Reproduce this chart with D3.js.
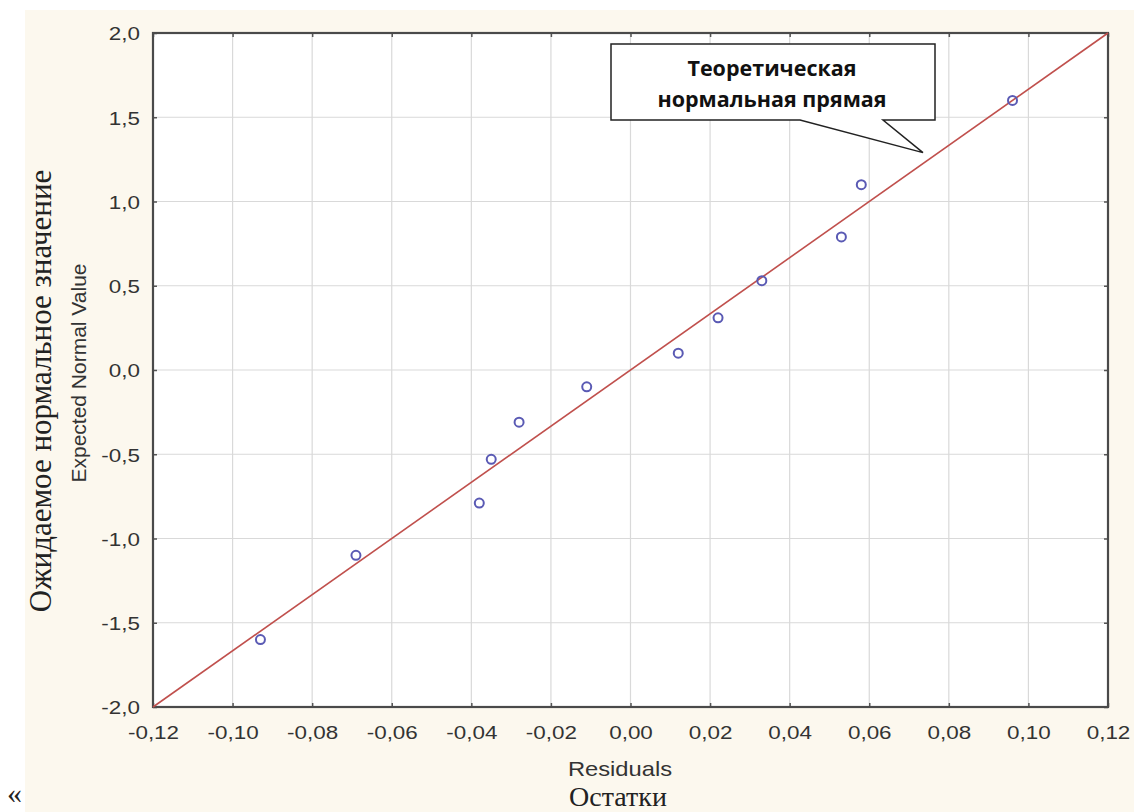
<!DOCTYPE html>
<html>
<head>
<meta charset="utf-8">
<script src="https://cdn.jsdelivr.net/npm/d3@7"></script>
<style>
  body { margin: 0; background: #ffffff; }
  svg { display: block; }
</style>
</head>
<body>
<svg></svg>
<script>
const svgWidth = 1134
const svgHeight = 812
const margins = { top: 33, bottom: 105, left: 153, right: 26 }
const plotWidth = svgWidth - margins.left - margins.right
const plotHeight = svgHeight - margins.top - margins.bottom

// residuals vs expected normal values
const residuals = [-0.093, -0.069, -0.038, -0.035, -0.028, -0.011, 0.012, 0.022, 0.033, 0.053, 0.058, 0.096]
const expected = [-1.60, -1.10, -0.79, -0.53, -0.31, -0.10, 0.10, 0.31, 0.53, 0.79, 1.10, 1.60]
const xTicks = [-0.12, -0.10, -0.08, -0.06, -0.04, -0.02, 0.00, 0.02, 0.04, 0.06, 0.08, 0.10, 0.12]
const yTicks = [-2.0, -1.5, -1.0, -0.5, 0.0, 0.5, 1.0, 1.5, 2.0]
const lineEnds = [[-0.12, -2.0], [0.12, 2.0]]
const calloutLines = ["Теоретическая", "нормальная прямая"]

const ru = d3.formatLocale({ decimal: ",", thousands: " ", grouping: [3], currency: ["", ""], minus: "-" })

// the picture is a bit wider than tall, so stretch text horizontally
function stretch(sel, k) {
    sel.each(function () {
        const w = this.getComputedTextLength()
        d3.select(this).attr("textLength", w * k).attr("lengthAdjust", "spacingAndGlyphs")
    })
}

const svg = d3.select("svg")
    .attr("width", svgWidth)
    .attr("height", svgHeight)

// cream panel
svg.append("rect")
    .attr("x", 25).attr("y", 10)
    .attr("width", svgWidth - 25).attr("height", svgHeight - 10)
    .attr("fill", "#fcf8ee")

const xScale = d3.scaleLinear().domain([-0.12, 0.12]).range([0, plotWidth])
const yScale = d3.scaleLinear().domain([-2, 2]).range([plotHeight, 0])

const g = svg.append("g").attr("transform", `translate(${margins.left},${margins.top})`)

g.append("rect")
    .attr("width", plotWidth).attr("height", plotHeight)
    .attr("fill", "#ffffff")

// grid
g.append("g").selectAll("line")
    .data(xTicks.slice(1, -1))
    .join("line")
    .attr("x1", d => xScale(d)).attr("x2", d => xScale(d))
    .attr("y1", 0).attr("y2", plotHeight)
    .attr("stroke", "#d9d9d9").attr("stroke-width", 1.2)
g.append("g").selectAll("line")
    .data(yTicks.slice(1, -1))
    .join("line")
    .attr("y1", d => yScale(d)).attr("y2", d => yScale(d))
    .attr("x1", 0).attr("x2", plotWidth)
    .attr("stroke", "#d9d9d9").attr("stroke-width", 1.2)

// axes with inner ticks
const xAxis = g.append("g")
    .attr("transform", `translate(0,${plotHeight})`)
    .call(d3.axisBottom(xScale).tickValues(xTicks).tickSizeInner(-4).tickSizeOuter(0).tickPadding(19).tickFormat(ru.format(".2f")))
const xAxisTop = g.append("g")
    .call(d3.axisTop(xScale).tickValues(xTicks).tickSizeInner(-4).tickSizeOuter(0).tickFormat(""))
const yAxis = g.append("g")
    .call(d3.axisLeft(yScale).tickValues(yTicks).tickSizeInner(-4).tickSizeOuter(0).tickPadding(13).tickFormat(ru.format(".1f")))
const yAxisRight = g.append("g")
    .attr("transform", `translate(${plotWidth},0)`)
    .call(d3.axisRight(yScale).tickValues(yTicks).tickSizeInner(-4).tickSizeOuter(0).tickFormat(""))

;[xAxis, xAxisTop, yAxis, yAxisRight].forEach(a => {
    a.select(".domain").remove()
    a.selectAll(".tick line").attr("stroke", "#555").attr("stroke-width", 1.5)
    a.selectAll("text")
        .attr("font-family", "Liberation Sans, Arial, sans-serif")
        .attr("font-size", 19)
        .attr("fill", "#333")
})
yAxis.selectAll("text").attr("dy", "0.36em")
stretch(xAxis.selectAll("text"), 1.18)
stretch(yAxis.selectAll("text"), 1.18)

// frame
g.append("rect")
    .attr("width", plotWidth).attr("height", plotHeight)
    .attr("fill", "none")
    .attr("stroke", "#4a4a4a").attr("stroke-width", 2.2)

// theoretical normal line
g.append("line")
    .attr("x1", xScale(lineEnds[0][0])).attr("y1", yScale(lineEnds[0][1]))
    .attr("x2", xScale(lineEnds[1][0])).attr("y2", yScale(lineEnds[1][1]))
    .attr("stroke", "#c0504d").attr("stroke-width", 1.6)

// points
g.selectAll(".pt")
    .data(residuals.map((r, i) => ({ r: r, e: expected[i] })))
    .join("circle")
    .attr("class", "pt")
    .attr("cx", d => xScale(d.r))
    .attr("cy", d => yScale(d.e))
    .attr("r", 4.5)
    .attr("fill", "none")
    .attr("stroke", "#5a5ab4")
    .attr("stroke-width", 2)

// callout
const box = { x: 611, y: 44, w: 324, h: 76 }
const tipX = xScale(0.0735) + margins.left
const tipY = yScale(1.29) + margins.top
svg.append("path")
    .attr("d", `M${box.x},${box.y} H${box.x + box.w} V${box.y + box.h} H${883} L${tipX},${tipY} L${800},${box.y + box.h} H${box.x} Z`)
    .attr("fill", "#ffffff")
    .attr("stroke", "#222")
    .attr("stroke-width", 1.5)
svg.append("g").selectAll("text")
    .data(calloutLines)
    .join("text")
    .attr("x", box.x + box.w / 2 - 1)
    .attr("y", (d, i) => 76 + i * 31)
    .attr("text-anchor", "middle")
    .attr("font-family", "Open Sans, sans-serif")
    .attr("font-weight", "bold")
    .attr("font-size", 21.5)
    .attr("fill", "#111")
    .text(d => d)

// axis titles
const resTitle = svg.append("text")
    .text("Residuals")
    .attr("x", 620)
    .attr("y", 776)
    .attr("text-anchor", "middle")
    .attr("font-family", "Liberation Sans, Arial, sans-serif")
    .attr("font-size", 21)
    .attr("fill", "#333")
stretch(resTitle, 1.13)
svg.append("text")
    .text("Остатки")
    .attr("x", 618)
    .attr("y", 806)
    .attr("text-anchor", "middle")
    .attr("font-family", "Liberation Serif, Times New Roman, serif")
    .attr("font-size", 28)
    .attr("fill", "#222")
svg.append("text")
    .text("Expected Normal Value")
    .attr("transform", "translate(86,373) rotate(-90)")
    .attr("text-anchor", "middle")
    .attr("font-family", "Liberation Sans, Arial, sans-serif")
    .attr("font-size", 21)
    .attr("fill", "#333")
svg.append("text")
    .text("Ожидаемое нормальное значение")
    .attr("transform", "translate(51,391) rotate(-90)")
    .attr("text-anchor", "middle")
    .attr("font-family", "Liberation Serif, Times New Roman, serif")
    .attr("font-size", 31)
    .attr("fill", "#222")

svg.append("text")
    .text("«")
    .attr("x", 7).attr("y", 803)
    .attr("font-family", "Liberation Serif, serif")
    .attr("font-size", 30)
    .attr("fill", "#222")
</script>
</body>
</html>
